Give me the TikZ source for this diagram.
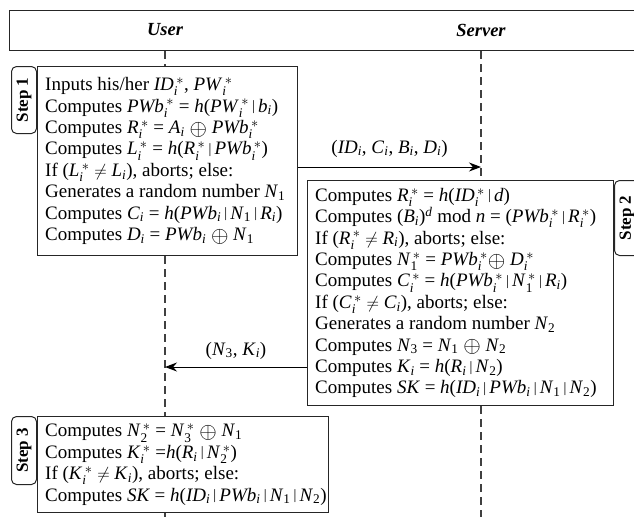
\documentclass[tikz,border=0pt]{standalone}
\usepackage{fontspec}
\usepackage{amsmath}
\setmainfont{Liberation Serif}
\usetikzlibrary{calc,arrows.meta}

% italic variable with subscript i, and with i and star
\newcommand{\ix}[1]{\textit{#1}$_{\textit{i}}$}
\newcommand{\ixs}[1]{\textit{#1}$_{\textit{i}}^{\,*}$}
\newcommand{\nx}[2]{\textit{#1}$_{\text{#2}}$}
\newcommand{\nxs}[2]{\textit{#1}$_{\text{#2}}^{\,*}$}
\newcommand{\cc}{\,\raisebox{0.15ex}{\scalebox{0.75}{|}}\,}
\newcommand{\xor}{\raisebox{-0.2ex}{\scalebox{1.3}{$\oplus$}}}

\begin{document}
\begin{tikzpicture}[x=1pt, y=-1pt]
  % Define styles
  \tikzset{
    lifeline/.style={black!75, line width=1.3pt, dash pattern=on 8pt off 5pt},
    stepbox/.style={draw=black!85, line width=1pt, anchor=north west, inner sep=0pt},
    steptext/.style={anchor=west, align=left, inner sep=0pt, font=\fontsize{19}{21.4}\selectfont},
    steptag/.style={draw=black!85, line width=1pt, rounded corners=5pt, rotate=90, inner sep=0pt, minimum height=25pt, font=\fontsize{17}{18}\selectfont\bfseries},
    msg/.style={-{Stealth[length=12pt,width=9pt]}, line width=1pt},
    msglabel/.style={font=\fontsize{19}{21.4}\selectfont},
    role/.style={font=\fontsize{18.5}{20}\selectfont\bfseries\itshape}
  }
  \useasboundingbox (0,0) rectangle (634,517);
  \clip (0,0) rectangle (634,517);

  % Header with the two parties
  \node[draw=black!85, line width=1.2pt, anchor=north west, minimum width=640pt, minimum height=40pt, inner sep=0pt] (header) at (9,10) {};
  \node[role] (user) at (165,30) {User};
  \node[role] (server) at (481,30) {Server};

  % Step 1 (user)
  \node[stepbox, minimum width=260pt, minimum height=189pt] (step1box) at (37,66) {};
  \node[steptext, xshift=8pt] (step1text) at (step1box.west) {%
    Inputs his/her \ixs{ID}, \ixs{PW}\\
    Computes \ixs{PWb} = \textit{h}(\ixs{PW}\cc\ix{b})\\
    Computes \ixs{R} = \ix{A} \xor{} \ixs{PWb}\\
    Computes \ixs{L} = \textit{h}(\ixs{R}\cc\ixs{PWb})\\
    If (\ixs{L} $\neq$ \ix{L}), aborts; else:\\
    Generates a random number \nx{N}{1}\\
    Computes \ix{C} = \textit{h}(\ix{PWb}\cc\nx{N}{1}\cc\ix{R})\\
    Computes \ix{D} = \ix{PWb} \xor{} \nx{N}{1}};
  \node[steptag, minimum width=67pt, anchor=south east] (tag1) at (step1box.north west) {Step 1};

  % Step 2 (server)
  \node[stepbox, minimum width=306pt, minimum height=225pt] (step2box) at (307,180) {};
  \node[steptext, xshift=8pt] (step2text) at (step2box.west) {%
    Computes \ixs{R} = \textit{h}(\ixs{ID}\cc\textit{d})\\
    Computes (\ix{B})$^{\textit{d}}$ mod \textit{n} = (\ixs{PWb}\cc\ixs{R})\\
    If (\ixs{R} $\neq$ \ix{R}), aborts; else:\\
    Computes \nxs{N}{1} = \ixs{PWb}\xor{} \ixs{D}\\
    Computes \ixs{C} = \textit{h}(\ixs{PWb}\cc\nxs{N}{1}\cc\ix{R})\\
    If (\ixs{C} $\neq$ \ix{C}), aborts; else:\\
    Generates a random number \nx{N}{2}\\
    Computes \nx{N}{3} = \nx{N}{1} \xor{} \nx{N}{2}\\
    Computes \ix{K} = \textit{h}(\ix{R}\cc\nx{N}{2})\\
    Computes \textit{SK} = \textit{h}(\ix{ID}\cc\ix{PWb}\cc\nx{N}{1}\cc\nx{N}{2})};
  \node[steptag, minimum width=75pt, anchor=north east] (tag2) at (step2box.north east) {Step 2};

  % Step 3 (user)
  \node[stepbox, minimum width=291pt, minimum height=96pt] (step3box) at (37,416) {};
  \node[steptext, xshift=8pt] (step3text) at (step3box.west) {%
    Computes \nxs{N}{2} = \nxs{N}{3} \xor{} \nx{N}{1}\\
    Computes \ixs{K} =\textit{h}(\ix{R}\cc\nxs{N}{2})\\
    If (\ixs{K} $\neq$ \ix{K}), aborts; else:\\
    Computes \textit{SK} = \textit{h}(\ix{ID}\cc\ix{PWb}\cc\nx{N}{1}\cc\nx{N}{2})};
  \node[steptag, minimum width=68pt, anchor=south east] (tag3) at (step3box.north west) {Step 3};

  % Lifelines
  \coordinate (ubot) at (165,517);
  \coordinate (sbot) at (481,517);
  \draw[lifeline] (header.south -| user) -- (step1box.north -| user);
  \draw[lifeline] (step1box.south -| user) -- (step3box.north -| user);
  \draw[lifeline] (step3box.south -| user) -- (ubot);
  \draw[lifeline] (header.south -| server) -- (step2box.north -| server);
  \draw[lifeline] (step2box.south -| server) -- (sbot);

  % Messages
  \coordinate (m1) at (481,167);
  \coordinate (m2) at (165,367);
  \draw[msg] (step1box.east |- m1) -- node[msglabel, above=6pt] (m1label) {(\ix{ID}, \ix{C}, \ix{B}, \ix{D})} (m1);
  \draw[msg] (step2box.west |- m2) -- node[msglabel, above=4pt] (m2label) {(\nx{N}{3}, \ix{K})} (m2);
\end{tikzpicture}
\end{document}
